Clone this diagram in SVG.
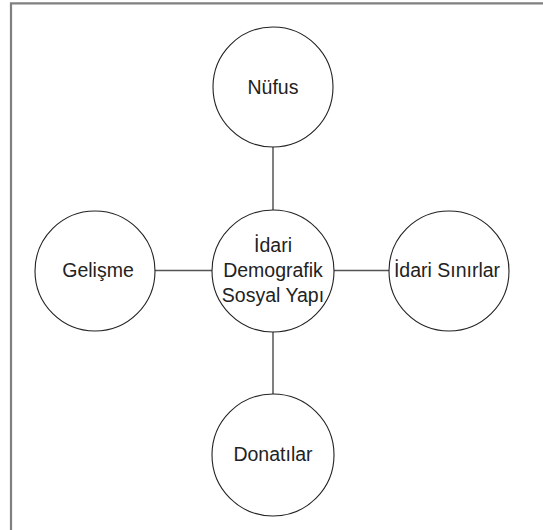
<svg xmlns="http://www.w3.org/2000/svg" width="543" height="530" viewBox="0 0 543 530">
<style>
.n{fill:#fff;stroke:#222;stroke-width:1.1}
.t{font-family:"Liberation Sans",Arial,sans-serif;font-size:19.5px;fill:#222;text-anchor:middle}
.c{stroke:#555;stroke-width:1.5;fill:none}
.f{stroke:#808080;stroke-width:2.2;fill:none}
</style>
<rect width="543" height="530" fill="#fff"/>
<path class="f" d="M11,530 V3.3 H543"/>
<g id="connectors">
<line class="c" x1="273" y1="147" x2="273" y2="210"/>
<line class="c" x1="273" y1="332" x2="273" y2="394"/>
<line class="c" x1="155" y1="270.5" x2="212" y2="270.5"/>
<line class="c" x1="334" y1="270.5" x2="389" y2="270.5"/>
</g>
<g id="nufus">
<circle class="n" cx="273" cy="87" r="60"/>
<text class="t" x="273" y="94">Nüfus</text>
</g>
<g id="gelisme">
<circle class="n" cx="95" cy="271" r="60"/>
<text class="t" x="98" y="277">Gelişme</text>
</g>
<g id="idari-sinirlar">
<circle class="n" cx="449" cy="271" r="60"/>
<text class="t" x="447" y="277">İdari Sınırlar</text>
</g>
<g id="donatilar">
<circle class="n" cx="273" cy="455" r="61"/>
<text class="t" x="273" y="461">Donatılar</text>
</g>
<g id="merkez">
<circle class="n" cx="273" cy="271" r="61"/>
<text class="t" x="273" y="252">İdari</text>
<text class="t" x="273" y="277">Demografik</text>
<text class="t" x="273" y="302">Sosyal Yapı</text>
</g>
</svg>
